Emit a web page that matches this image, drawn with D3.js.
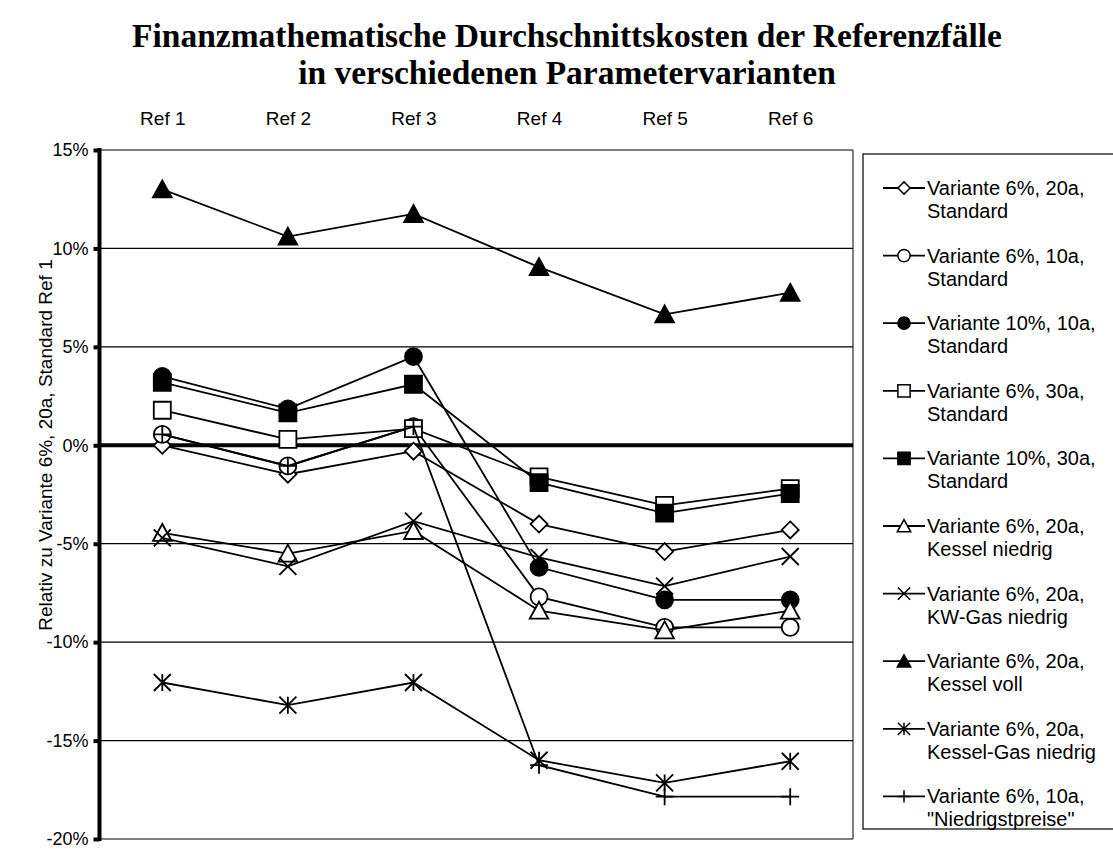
<!DOCTYPE html>
<html>
<head>
<meta charset="utf-8">
<script src="https://cdn.jsdelivr.net/npm/d3@7"></script>
<style>
  body { margin: 0; background: #fff; }
  svg { display: block; }
  text { font-family: "Liberation Sans", Arial, sans-serif; fill: #000; }
</style>
</head>
<body>
<script>
// data (values in %)
const categories = ["Ref 1", "Ref 2", "Ref 3", "Ref 4", "Ref 5", "Ref 6"];
const yTicks = [15, 10, 5, 0, -5, -10, -15, -20];

const seriesNames = [
  ["Variante 6%, 20a,", "Standard"],
  ["Variante 6%, 10a,", "Standard"],
  ["Variante 10%, 10a,", "Standard"],
  ["Variante 6%, 30a,", "Standard"],
  ["Variante 10%, 30a,", "Standard"],
  ["Variante 6%, 20a,", "Kessel niedrig"],
  ["Variante 6%, 20a,", "KW-Gas niedrig"],
  ["Variante 6%, 20a,", "Kessel voll"],
  ["Variante 6%, 20a,", "Kessel-Gas niedrig"],
  ["Variante 6%, 10a,", "\"Niedrigstpreise\""]
];
const markerTypes = ["diamond", "circleOpen", "circleFilled", "squareOpen", "squareFilled",
                     "triangleOpen", "x", "triangleFilled", "asterisk", "plus"];

const v6_20_std    = [0, -1.47, -0.3, -4.0, -5.4, -4.3];
const v6_10_std    = [0.55, -1.05, 0.95, -7.7, -9.25, -9.25];
const v10_10_std   = [3.5, 1.85, 4.5, -6.2, -7.85, -7.85];
const v6_30_std    = [1.78, 0.3, 0.85, -1.6, -3.05, -2.2];
const v10_30_std   = [3.2, 1.65, 3.1, -1.9, -3.45, -2.45];
const v_kessNied   = [-4.45, -5.5, -4.35, -8.4, -9.4, -8.4];
const v_kwGasNied  = [-4.7, -6.15, -3.85, -5.7, -7.15, -5.65];
const v_kessVoll   = [13.0, 10.6, 11.75, 9.05, 6.65, 7.75];
const v_kessGas    = [-12.05, -13.2, -12.05, -16.0, -17.15, -16.05];
const v_niedrigst  = [0.55, -1.05, 0.95, -16.25, -17.85, -17.85];

const seriesValues = [v6_20_std, v6_10_std, v10_10_std, v6_30_std, v10_30_std,
                      v_kessNied, v_kwGasNied, v_kessVoll, v_kessGas, v_niedrigst];

const series = seriesValues.map((vals, i) => ({
  name: seriesNames[i],
  marker: markerTypes[i],
  values: vals.map((v, j) => ({ cat: categories[j], v }))
}));

const width = 1113, height = 849;
const plot = { left: 99.5, right: 853, top: 150, bottom: 839 };

const svg = d3.select("body").append("svg")
  .attr("width", width)
  .attr("height", height);

// title
const title = svg.append("text")
  .attr("text-anchor", "middle")
  .style("font-family", "'Liberation Serif', 'Times New Roman', serif")
  .style("font-weight", "bold")
  .style("font-size", "33.5px");
title.append("tspan").attr("x", 567).attr("y", 47).text("Finanzmathematische Durchschnittskosten der Referenzfälle");
title.append("tspan").attr("x", 567).attr("y", 84).text("in verschiedenen Parametervarianten");

const x = d3.scalePoint()
  .domain(categories)
  .range([plot.left, plot.right])
  .padding(0.5);

const y = d3.scaleLinear()
  .domain([-20, 15])
  .range([plot.bottom, plot.top]);

// gridlines
svg.append("g")
  .selectAll("line")
  .data(yTicks.filter(d => d !== 0))
  .enter()
  .append("line")
  .attr("x1", plot.left)
  .attr("x2", plot.right)
  .attr("y1", d => y(d))
  .attr("y2", d => y(d))
  .attr("stroke", "#000")
  .attr("stroke-width", 1.2);

// right border of plot area
svg.append("line")
  .attr("x1", plot.right).attr("x2", plot.right)
  .attr("y1", plot.top).attr("y2", plot.bottom)
  .attr("stroke", "#000").attr("stroke-width", 1);

// y axis
const yAxis = d3.axisLeft(y)
  .tickValues(yTicks)
  .tickSize(6)
  .tickPadding(5)
  .tickFormat(d => d + "%");

const yAxisG = svg.append("g")
  .attr("transform", `translate(${plot.left},0)`)
  .call(yAxis);
yAxisG.select(".domain").remove();
yAxisG.selectAll(".tick line").attr("stroke", "#000").attr("stroke-width", 4);
yAxisG.selectAll(".tick text")
  .style("font-family", "'Liberation Sans', Arial, sans-serif")
  .style("font-size", "18px");
yAxisG.append("line")
  .attr("x1", 0).attr("x2", 0)
  .attr("y1", plot.top - 2).attr("y2", plot.bottom + 2)
  .attr("stroke", "#000").attr("stroke-width", 4);

// category labels along the top
const xAxis = d3.axisTop(x).tickSize(0).tickPadding(0);
const xAxisG = svg.append("g")
  .attr("transform", "translate(0,125)")
  .call(xAxis);
xAxisG.select(".domain").remove();
xAxisG.selectAll(".tick text")
  .attr("dy", 0)
  .style("font-family", "'Liberation Sans', Arial, sans-serif")
  .style("font-size", "19px");

// y axis title
svg.append("text")
  .attr("transform", `translate(52,445) rotate(-90)`)
  .attr("text-anchor", "middle")
  .style("font-size", "19px")
  .text("Relativ zu Variante 6%, 20a, Standard Ref 1");

// markers
function markerPath(type, s) {
  const h = 8.5 * s;
  switch (type) {
    case "diamond": return `M0,${-h}L${h},0L0,${h}L${-h},0Z`;
    case "circleOpen":
    case "circleFilled": return d3.symbol(d3.symbolCircle, Math.PI * h * h)();
    case "squareOpen":
    case "squareFilled": return `M${-h},${-h}H${h}V${h}H${-h}Z`;
    case "triangleOpen":
    case "triangleFilled": return `M0,${-h * 1.05}L${h * 1.1},${h * 0.95}L${-h * 1.1},${h * 0.95}Z`;
    case "x": return `M${-h},${-h}L${h},${h}M${-h},${h}L${h},${-h}`;
    case "asterisk": return `M${-h},${-h}L${h},${h}M${-h},${h}L${h},${-h}M0,${-h}V${h}`;
    case "plus": return `M${-h * 1.05},0H${h * 1.05}M0,${-h}V${h}`;
  }
}
function markerFill(type) {
  if (type === "circleFilled" || type === "squareFilled" || type === "triangleFilled") return "#000";
  if (type === "x" || type === "asterisk" || type === "plus") return "none";
  return "#fff";
}

const line = d3.line()
  .x(d => x(d.cat))
  .y(d => y(d.v));

// zero line
svg.append("line")
  .attr("x1", plot.left).attr("x2", plot.right)
  .attr("y1", y(0)).attr("y2", y(0))
  .attr("stroke", "#000").attr("stroke-width", 4);

const seriesG = svg.append("g")
  .selectAll("g")
  .data(series)
  .enter()
  .append("g");

seriesG.append("path")
  .attr("d", d => line(d.values))
  .attr("fill", "none")
  .attr("stroke", "#000")
  .attr("stroke-width", 1.8);

seriesG.each(function(s) {
  d3.select(this).selectAll(".mk")
    .data(s.values)
    .enter()
    .append("path")
    .attr("class", "mk")
    .attr("transform", d => `translate(${x(d.cat)},${y(d.v)})`)
    .attr("d", markerPath(s.marker, 1))
    .attr("fill", markerFill(s.marker))
    .attr("stroke", "#000")
    .attr("stroke-width", 1.8);
});

// legend
const legend = svg.append("g").attr("transform", "translate(863,154)");
legend.append("rect")
  .attr("x", 0).attr("y", 0)
  .attr("width", 262).attr("height", 675)
  .attr("fill", "#fff")
  .attr("stroke", "#000")
  .attr("stroke-width", 1.2);

const legendItem = legend.selectAll(".item")
  .data(series)
  .enter()
  .append("g")
  .attr("class", "item")
  .attr("transform", (d, i) => `translate(0,${34 + i * 67.6})`);

legendItem.append("line")
  .attr("x1", 20).attr("x2", 62)
  .attr("y1", 0).attr("y2", 0)
  .attr("stroke", "#000").attr("stroke-width", 1.8);

legendItem.append("path")
  .attr("transform", "translate(41,0)")
  .attr("d", d => markerPath(d.marker, 0.72))
  .attr("fill", d => markerFill(d.marker))
  .attr("stroke", "#000")
  .attr("stroke-width", 1.5);

legendItem.append("text")
  .attr("x", 64).attr("y", 7)
  .style("font-size", "20px")
  .text(d => d.name[0]);
legendItem.append("text")
  .attr("x", 64).attr("y", 30)
  .style("font-size", "20px")
  .text(d => d.name[1]);
</script>
</body>
</html>
